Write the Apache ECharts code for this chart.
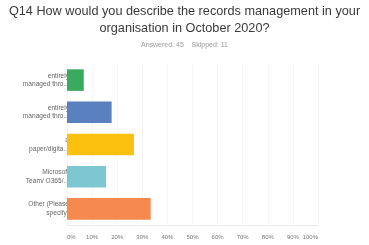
<!DOCTYPE html>
<html>
<head>
<meta charset="utf-8">
<script src="https://cdn.jsdelivr.net/npm/echarts@6/dist/echarts.min.js"></script>
<style>
html,body{margin:0;padding:0;background:#fff;}
#chart{width:369px;height:245px;}
</style>
</head>
<body>
<div id="chart"></div>
<script>
var titleLine1 = 'Q14 How would you describe the records management in your';
var titleLine2 = 'organisation in October 2020?';
var subText = 'Answered: 45    Skipped: 11';
var categories = ['entirely\nmanaged thro...', 'entirely\nmanaged thro...', 'a\npaper/digita...', 'Microsoft\nTeam/ O365/...', 'Other (Please\nspecify)'];
var percents = [6.67, 17.78, 26.67, 15.56, 33.33];
var barColors = ['#3aaa5e', '#5b80c0', '#fcc10e', '#7cc7d2', '#f5894e'];
var tickValues = [0, 10, 20, 30, 40, 50, 60, 70, 80, 90, 100];

var titleStyle = {fontFamily: 'Liberation Sans', fontSize: 12.7, fontWeight: 'normal', color: '#3a3a3a'};
var chart = echarts.init(document.getElementById('chart'));
chart.setOption({
  animation: false,
  title: [{
    text: titleLine1, left: 'center', top: 5, padding: 0, textStyle: titleStyle
  }, {
    text: titleLine2, left: 'center', top: 22, padding: 0, textStyle: titleStyle
  }, {
    text: subText,
    left: 'center',
    top: 42,
    padding: 0,
    textStyle: {fontFamily: 'Liberation Sans', fontSize: 7, fontWeight: 'normal', color: '#9a9a9a'}
  }],
  grid: {left: 67, right: 51, top: 64, bottom: 20, containLabel: false},
  xAxis: {
    type: 'value',
    min: 0, max: 100, interval: 10,
    axisLine: {show: true, lineStyle: {color: '#ebebeb', width: 1}},
    axisTick: {show: false},
    splitLine: {show: true, lineStyle: {color: '#f6f6f6', width: 1}},
    axisLabel: {
      fontFamily: 'Liberation Sans', fontSize: 6, color: '#777777', margin: 9,
      alignMinLabel: 'left', alignMaxLabel: 'right',
      formatter: function (v) { return tickValues.indexOf(v) >= 0 ? v + '%' : ''; }
    }
  },
  yAxis: {
    type: 'category',
    inverse: true,
    data: categories,
    axisLine: {show: false},
    axisTick: {show: false},
    axisLabel: {fontFamily: 'Liberation Sans', fontSize: 6.6, color: '#666666', margin: -2, lineHeight: 8.5, align: 'right'}
  },
  series: [{
    type: 'bar',
    data: percents.map(function (v, i) { return {value: v, itemStyle: {color: barColors[i]}}; }),
    barWidth: '67%',
    z: 1
  }]
});
</script>
</body>
</html>
